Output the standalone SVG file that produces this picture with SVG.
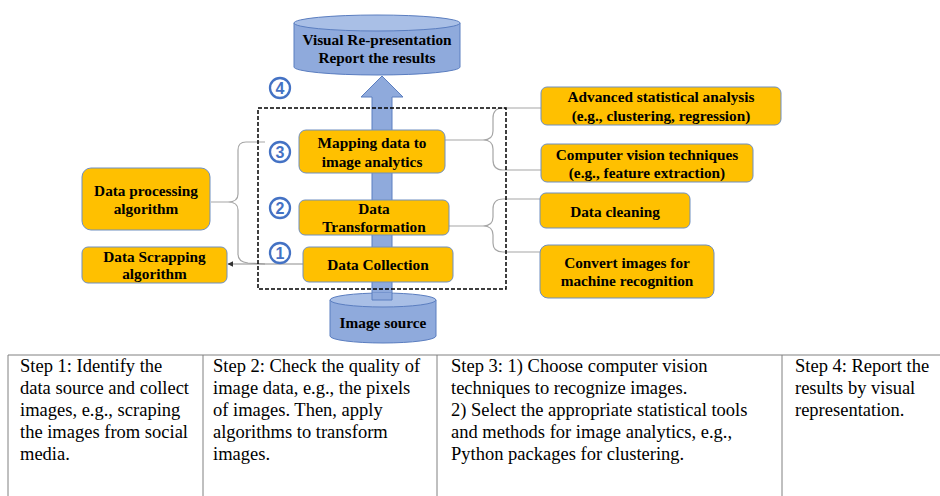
<svg xmlns="http://www.w3.org/2000/svg" width="940" height="496" viewBox="0 0 940 496">
<defs>
<marker id="ah" viewBox="0 0 10 10" refX="9" refY="5" markerWidth="5" markerHeight="5" orient="auto-start-reverse">
<path d="M0,0 L10,5 L0,10 z" fill="#333"/>
</marker>
</defs>
<style>
.box{fill:#FFC000;stroke:#6F8FC0;stroke-width:1}
.cyl{fill:#8FAADC;stroke:#5B7EC0;stroke-width:1}
.cyltop{fill:#A9BFE6;stroke:#5B7EC0;stroke-width:1}
.brace{fill:none;stroke:#A6A6A6;stroke-width:1.2}
.num circle{fill:#fff;stroke:#4472C4;stroke-width:2.3}
.tl{stroke:#808080;stroke-width:1;fill:none}
</style>
<rect width="940" height="496" fill="#fff"/>

<g id="flow-arrow">
<polygon points="382,76 403,97 392,97 392,300 372,300 372,97 361,97" fill="#8FAADC" stroke="#5B7EC0" stroke-width="1"/>
</g>

<g id="visual">
<path class="cyl" d="M294,23 L294,67 A83,8 0 0 0 460,67 L460,23 Z"/>
<ellipse class="cyltop" cx="377" cy="23" rx="83" ry="8"/>
<text x="377" y="45" style="font-family:'Liberation Serif',serif;font-weight:bold;font-size:15.3px;text-anchor:middle">Visual Re-presentation</text>
<text x="377" y="63" style="font-family:'Liberation Serif',serif;font-weight:bold;font-size:15.3px;text-anchor:middle">Report the results</text>
</g>

<g id="image-source">
<path class="cyl" d="M330,300 L330,336 A53,7 0 0 0 436,336 L436,300 Z"/>
<ellipse class="cyltop" cx="383" cy="300" rx="53" ry="7"/>
<rect x="372" y="293" width="20" height="7" fill="#8FAADC"/>
<path d="M372,293 L372,300 L392,300 L392,293" fill="none" stroke="#5B7EC0" stroke-width="1"/>
<text x="383" y="328" style="font-family:'Liberation Serif',serif;font-weight:bold;font-size:15.3px;text-anchor:middle">Image source</text>
</g>

<g id="connectors">
<path class="brace" d="M265,142 L246,142 Q238,142 238,150 L238,194 Q238,202 228,202 L211,202 M228,202 Q238,202 238,210 L238,254 Q238,262 248,263 L265,264"/>
<line x1="303" y1="264" x2="228" y2="264" stroke="#8C8C8C" stroke-width="1.2" marker-end="url(#ah)"/>
<path class="brace" d="M541,108 L503,108 Q493,108 493,118 L493,131 Q493,140 483,140 L445,140 M483,140 Q493,140 493,149 L493,160 Q493,170 503,170 L541,170"/>
<path class="brace" d="M540,199 L503,199 Q493,199 493,209 L493,217 Q493,226 483,226 L449,226 M483,226 Q493,226 493,235 L493,243 Q493,252 503,252 L540,252"/>
</g>

<rect id="stage-box" x="258" y="108" width="248" height="181" fill="none" stroke="#000" stroke-width="1.5" stroke-dasharray="4,2"/>

<g id="n-mapping">
<rect class="box" x="299" y="130" width="146" height="43" rx="7"/>
<text x="372" y="148" style="font-family:'Liberation Serif',serif;font-weight:bold;font-size:15.3px;text-anchor:middle">Mapping data to</text>
<text x="372" y="167" style="font-family:'Liberation Serif',serif;font-weight:bold;font-size:15.3px;text-anchor:middle">image analytics</text>
</g>
<g id="n-transform">
<rect class="box" x="299" y="200" width="150" height="35" rx="6"/>
<text x="374" y="214" style="font-family:'Liberation Serif',serif;font-weight:bold;font-size:15.3px;text-anchor:middle">Data</text>
<text x="374" y="232" style="font-family:'Liberation Serif',serif;font-weight:bold;font-size:15.3px;text-anchor:middle">Transformation</text>
</g>
<g id="n-collection">
<rect class="box" x="303" y="247" width="150" height="35" rx="6"/>
<text x="378" y="270" style="font-family:'Liberation Serif',serif;font-weight:bold;font-size:15.3px;text-anchor:middle">Data Collection</text>
</g>
<g id="n-processing">
<rect class="box" x="82" y="168" width="128" height="62" rx="9"/>
<text x="146" y="196" style="font-family:'Liberation Serif',serif;font-weight:bold;font-size:15.3px;text-anchor:middle">Data processing</text>
<text x="146" y="214" style="font-family:'Liberation Serif',serif;font-weight:bold;font-size:15.3px;text-anchor:middle">algorithm</text>
</g>
<g id="n-scrapping">
<rect class="box" x="82" y="247" width="145" height="36" rx="6"/>
<text x="154.5" y="262" style="font-family:'Liberation Serif',serif;font-weight:bold;font-size:15.3px;text-anchor:middle">Data Scrapping</text>
<text x="154.5" y="279" style="font-family:'Liberation Serif',serif;font-weight:bold;font-size:15.3px;text-anchor:middle">algorithm</text>
</g>
<g id="n-advanced">
<rect class="box" x="541" y="87" width="240" height="38" rx="6"/>
<text x="661" y="102" style="font-family:'Liberation Serif',serif;font-weight:bold;font-size:15.3px;text-anchor:middle">Advanced statistical analysis</text>
<text x="661" y="121" style="font-family:'Liberation Serif',serif;font-weight:bold;font-size:15.3px;text-anchor:middle">(e.g., clustering, regression)</text>
</g>
<g id="n-cv">
<rect class="box" x="541" y="144" width="212" height="38" rx="6"/>
<text x="647" y="160" style="font-family:'Liberation Serif',serif;font-weight:bold;font-size:15.3px;text-anchor:middle">Computer vision techniques</text>
<text x="647" y="178" style="font-family:'Liberation Serif',serif;font-weight:bold;font-size:15.3px;text-anchor:middle">(e.g., feature extraction)</text>
</g>
<g id="n-cleaning">
<rect class="box" x="540" y="193" width="150" height="35" rx="6"/>
<text x="615" y="217" style="font-family:'Liberation Serif',serif;font-weight:bold;font-size:15.3px;text-anchor:middle">Data cleaning</text>
</g>
<g id="n-convert">
<rect class="box" x="540" y="245" width="174" height="53" rx="8"/>
<text x="627" y="268" style="font-family:'Liberation Serif',serif;font-weight:bold;font-size:15.3px;text-anchor:middle">Convert images for</text>
<text x="627" y="286" style="font-family:'Liberation Serif',serif;font-weight:bold;font-size:15.3px;text-anchor:middle">machine recognition</text>
</g>

<g id="num4" class="num"><circle cx="280" cy="88" r="10"/><text x="280" y="94" style="font-family:'Liberation Sans',sans-serif;font-weight:bold;font-size:16px;fill:#4472C4;text-anchor:middle">4</text></g>
<g id="num3" class="num"><circle cx="280" cy="152" r="10"/><text x="280" y="158" style="font-family:'Liberation Sans',sans-serif;font-weight:bold;font-size:16px;fill:#4472C4;text-anchor:middle">3</text></g>
<g id="num2" class="num"><circle cx="280" cy="208" r="10"/><text x="280" y="214" style="font-family:'Liberation Sans',sans-serif;font-weight:bold;font-size:16px;fill:#4472C4;text-anchor:middle">2</text></g>
<g id="num1" class="num"><circle cx="280" cy="253" r="10"/><text x="280" y="259" style="font-family:'Liberation Sans',sans-serif;font-weight:bold;font-size:16px;fill:#4472C4;text-anchor:middle">1</text></g>

<g id="table">
<path class="tl" d="M8,355 L940,355 M8,355 L8,496 M203,355 L203,496 M437,355 L437,496 M782,355 L782,496"/>
<text x="20" y="372" style="font-family:'Liberation Serif',serif;font-size:18.5px">Step 1: Identify the</text>
<text x="20" y="394" style="font-family:'Liberation Serif',serif;font-size:18.5px">data source and collect</text>
<text x="20" y="416" style="font-family:'Liberation Serif',serif;font-size:18.5px">images, e.g., scraping</text>
<text x="20" y="438" style="font-family:'Liberation Serif',serif;font-size:18.5px">the images from social</text>
<text x="20" y="460" style="font-family:'Liberation Serif',serif;font-size:18.5px">media.</text>
<text x="213" y="372" style="font-family:'Liberation Serif',serif;font-size:18.5px">Step 2: Check the quality of</text>
<text x="213" y="394" style="font-family:'Liberation Serif',serif;font-size:18.5px">image data, e.g., the pixels</text>
<text x="213" y="416" style="font-family:'Liberation Serif',serif;font-size:18.5px">of images. Then, apply</text>
<text x="213" y="438" style="font-family:'Liberation Serif',serif;font-size:18.5px">algorithms to transform</text>
<text x="213" y="460" style="font-family:'Liberation Serif',serif;font-size:18.5px">images.</text>
<text x="451" y="372" style="font-family:'Liberation Serif',serif;font-size:18.5px">Step 3: 1) Choose computer vision</text>
<text x="451" y="394" style="font-family:'Liberation Serif',serif;font-size:18.5px">techniques to recognize images.</text>
<text x="451" y="416" style="font-family:'Liberation Serif',serif;font-size:18.5px">2) Select the appropriate statistical tools</text>
<text x="451" y="438" style="font-family:'Liberation Serif',serif;font-size:18.5px">and methods for image analytics, e.g.,</text>
<text x="451" y="460" style="font-family:'Liberation Serif',serif;font-size:18.5px">Python packages for clustering.</text>
<text x="795" y="372" style="font-family:'Liberation Serif',serif;font-size:18.5px">Step 4: Report the</text>
<text x="795" y="394" style="font-family:'Liberation Serif',serif;font-size:18.5px">results by visual</text>
<text x="795" y="416" style="font-family:'Liberation Serif',serif;font-size:18.5px">representation.</text>
</g>
</svg>
